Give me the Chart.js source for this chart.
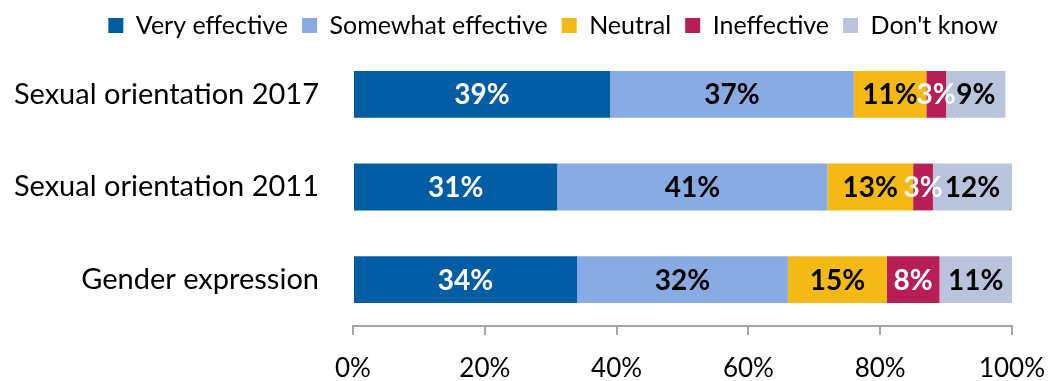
<!DOCTYPE html>
<html>
<head>
<meta charset="utf-8">
<script src="https://cdn.jsdelivr.net/npm/chart.js@4.4.1/dist/chart.umd.min.js"></script>
<style>
  html, body { margin: 0; padding: 0; background: #fff; }
  #wrap { width: 1052px; height: 381px; }
</style>
</head>
<body>
<div id="wrap"><canvas id="effectChart" width="1052" height="381"></canvas></div>
<script>
const categories = ['Sexual orientation 2017', 'Sexual orientation 2011', 'Gender expression'];
const veryEffective = [39, 31, 34];
const somewhatEffective = [37, 41, 32];
const neutral = [11, 13, 15];
const ineffective = [3, 3, 8];
const dontKnow = [9, 12, 11];
const xTicks = [0, 20, 40, 60, 80, 100];

const FONT = 'Lato, "Open Sans", sans-serif';

// value labels centred on every segment
const segmentLabels = {
  id: 'segmentLabels',
  afterDatasetsDraw(chart) {
    const ctx = chart.ctx;
    ctx.save();
    ctx.font = 'bold 28px ' + FONT;
    ctx.textAlign = 'center';
    ctx.textBaseline = 'middle';
    chart.data.datasets.forEach((ds, i) => {
      const meta = chart.getDatasetMeta(i);
      meta.data.forEach((bar, j) => {
        const v = ds.data[j];
        ctx.fillStyle = ds.labelColor;
        ctx.fillText(v + '%', (bar.x + bar.base) / 2, bar.y + 1);
      });
    });
    ctx.restore();
  }
};

function series(label, data, color, labelColor) {
  return {
    label,
    data,
    backgroundColor: color,
    labelColor,
    borderWidth: 0,
    barPercentage: 0.505,
    categoryPercentage: 1
  };
}

const data = {
  labels: categories,
  datasets: [
    series('Very effective', veryEffective, '#005ca3', '#ffffff'),
    series('Somewhat effective', somewhatEffective, '#89abe3', '#000000'),
    series('Neutral', neutral, '#f4b914', '#000000'),
    series('Ineffective', ineffective, '#b71e56', '#ffffff'),
    series("Don't know", dontKnow, '#b9c4dc', '#000000')
  ]
};

const config = {
  type: 'bar',
  data,
  options: {
    indexAxis: 'y',
    responsive: false,
    animation: false,
    layout: { padding: { top: -1, right: 40, left: 0, bottom: 0 } },
    plugins: {
      tooltip: { enabled: false },
      legend: {
        position: 'top',
        align: 'end',
        labels: {
          boxWidth: 15,
          boxHeight: 15,
          padding: 14,
          color: '#000',
          font: { family: FONT, size: 25 }
        }
      }
    },
    scales: {
      x: {
        stacked: true,
        min: 0,
        max: 100,
        afterBuildTicks(scale) {
          scale.ticks = xTicks.map(v => ({ value: v }));
        },
        afterFit(scale) {
          // fixed axis band, no extra room for the end labels
          scale.height = 55;
          scale.paddingLeft = 0;
          scale.paddingRight = 0;
        },
        ticks: {
          color: '#000',
          padding: 18,
          font: { family: FONT, size: 26 },
          callback: v => v + '%'
        },
        grid: { drawOnChartArea: false, drawTicks: true, tickLength: 9, color: '#a6a6a6', lineWidth: 2 },
        border: { display: true, color: '#a6a6a6', width: 2 }
      },
      y: {
        stacked: true,
        afterFit(scale) { scale.width = 353; },
        ticks: {
          color: '#000',
          padding: 26,
          font: { family: FONT, size: 29 }
        },
        grid: { display: false },
        border: { display: false }
      }
    }
  },
  plugins: [segmentLabels]
};

const canvas = document.getElementById('effectChart');
new Chart(canvas.getContext('2d'), config);
</script>
</body>
</html>
